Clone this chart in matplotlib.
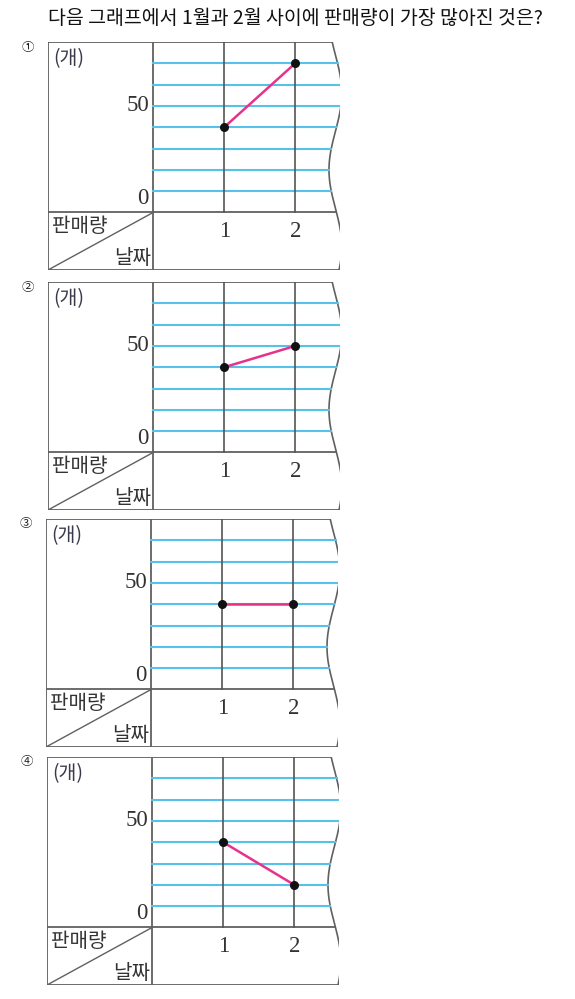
import numpy as np
import matplotlib
matplotlib.use("Agg")
import matplotlib.pyplot as plt

plt.rcParams['font.family'] = ['Noto Sans CJK KR', 'DejaVu Sans']

title = '다음 그래프에서 1월과 2월 사이에 판매량이 가장 많아진 것은?'
choice_marks = ['①', '②', '③', '④']
days = [1, 2]
day_labels = ['1', '2']
sales = [[40, 70], [40, 50], [40, 40], [40, 20]]
labeled_ticks = [0, 50]
grid_levels = [10, 20, 30, 40, 50, 60, 70]
unit_label = '(개)'
row_label = '판매량'
col_label = '날짜'

W, H = 575, 999
fig = plt.figure(figsize=(W / 100, H / 100), dpi=100)

fig.text(295 / W, 1 - 19 / H, title, ha='center', va='center',
         fontsize=14, color='#111111')

# panel boxes in pixels: left, top
boxes = [(48, 42), (48, 282), (46, 519), (47, 757)]
box_w, box_h = 292, 228
x0, x1 = -1.48, 2.63
y0, y1 = -27, 80

box_col = '#606060'
blue = '#56c1ea'
pink = '#e8318c'
serif = 'Liberation Serif'


def edge(y):
    return 2.565 + 0.09 * np.sin(2 * np.pi * (y - 38) / 72)


for mark, vals, (bl, bt) in zip(choice_marks, sales, boxes):
    ax = fig.add_axes([bl / W, 1 - (bt + box_h) / H, box_w / W, box_h / H])
    ax.set_xlim(x0, x1)
    ax.set_ylim(y0, y1)
    ax.axis('off')

    fig.text((bl - 20) / W, 1 - (bt + 5) / H, mark, ha='center', va='center',
             fontsize=9, color='#222222')

    yy = np.linspace(y0, y1, 300)
    ax.plot(edge(yy), yy, color=box_col, lw=1.2, solid_capstyle='round')
    # outer frame
    ax.plot([x0, x0], [y0, y1], color=box_col, lw=1.3)
    ax.plot([x0, edge(y1)], [y1, y1], color=box_col, lw=1.3)
    ax.plot([x0, edge(y0)], [y0, y0], color=box_col, lw=1.3)
    ax.plot([x0, edge(0)], [0, 0], color=box_col, lw=1.3)
    ax.plot([0, 0], [y0, y1], color=box_col, lw=1.3)
    ax.plot([x0, 0], [y0, 0], color=box_col, lw=1.0)

    for g in grid_levels:
        ax.plot([0, edge(g)], [g, g], color=blue, lw=1.5, zorder=2)
    for d in days:
        ax.plot([d, d], [0, y1], color='#555555', lw=1.2, zorder=3)

    ax.plot(days, vals, color=pink, lw=1.8, zorder=4)
    ax.scatter(days, vals, s=30, color='#111111', zorder=5)

    ax.text(x0 + 0.08, 77, unit_label, ha='left', va='top', fontsize=14,
            color='#3a3a4a')
    for t in labeled_ticks:
        ax.text(-0.06, t + (1.5 if t == 0 else 0), str(t), ha='right',
                va='bottom' if t == 0 else 'center', fontsize=16.5,
                family=serif, color='#333333')
    for d, lab in zip(days, day_labels):
        ax.text(d, -9, lab, ha='center', va='center', fontsize=16.5,
                family=serif, color='#333333')
    ax.text(x0 + 0.05, -1.5, row_label, ha='left', va='top', fontsize=14.5,
            color='#333333')
    ax.text(-0.03, -26.5, col_label, ha='right', va='bottom', fontsize=14.5,
            color='#333333')

fig.savefig('out.png', dpi=100)
